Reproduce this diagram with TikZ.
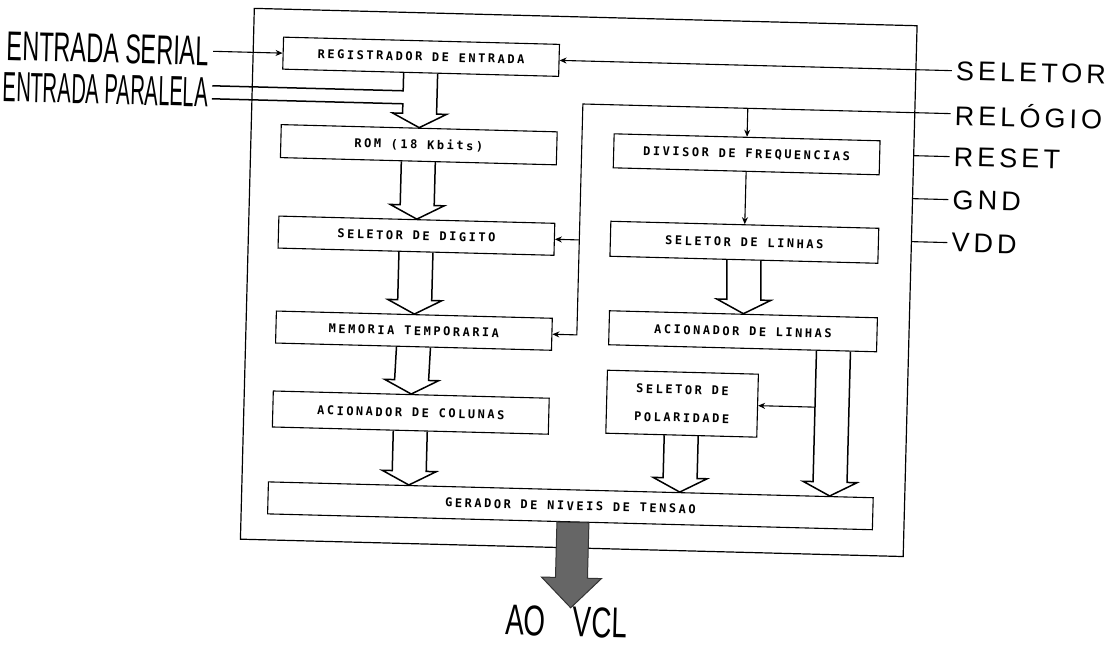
\documentclass[tikz,border=0pt]{standalone}
\usepackage{fontspec}
\usepackage{graphicx}
\usetikzlibrary{arrows.meta, positioning, calc}

\newfontfamily\dotfont[LetterSpace=21]{DejaVu Sans Mono}
\newfontfamily\pinfont[LetterSpace=15]{Liberation Sans}
\newfontfamily\plotfont{Liberation Sans}

% tall narrow plotter lettering
\newcommand{\plotlabel}[2]{\resizebox{#1}{29pt}{\plotfont #2}}

% hollow bus arrow from #1 down to its tip #2
\newcommand{\busarrow}[2]{%
  \draw[bus] ($(#1)+(-17,0)$) -- ($(#2)+(-17,-14)$) -- ($(#2)+(-27,-14)$) -- (#2)
    -- ($(#2)+(27,-14)$) -- ($(#2)+(17,-14)$) -- ($(#1)+(17,0)$);}

\begin{document}
\begin{tikzpicture}[
    x=1pt, y=-1pt,
    blk/.style={rectangle, draw=black, line width=1.1pt, minimum width=276pt, minimum height=32pt, inner sep=0pt, font=\dotfont\bfseries\fontsize{12}{14}\selectfont},
    pinlabel/.style={anchor=west, inner sep=4pt, font=\pinfont\fontsize{27}{30}\selectfont},
    sidelabel/.style={anchor=east, inner sep=4pt},
    arrow/.style={-{Stealth[length=7pt, width=6pt]}, line width=1.1pt},
    bus/.style={line width=1.5pt, line join=miter},
    wire/.style={line width=1.1pt}
]
\useasboundingbox (0,0) rectangle (1108,652);

\begin{scope}[rotate around={-1.5:(580,330)}, transform shape]

\node[draw, line width=1.2pt, minimum width=663pt, minimum height=531pt, inner sep=0pt] (chip) at (577.5,282.5) {};

% left column
\node[blk] (reg) at (414,61) {REGISTRADOR DE ENTRADA};
\node[blk, minimum height=33pt] (rom) at (414,149) {ROM (18 Kbits)};
\node[blk] (dig) at (414,240) {SELETOR DE DIGITO};
\node[blk] (mem) at (414,335) {MEMORIA TEMPORARIA};
\node[blk, minimum height=36pt] (acol) at (413,417) {ACIONADOR DE COLUNAS};
\node[blk, minimum width=605pt] (ger) at (575,506) {GERADOR DE NIVEIS DE TENSAO};

% right column
\node[blk, minimum width=266pt, minimum height=34pt] (div) at (742,150) {DIVISOR DE FREQUENCIAS};
\node[blk, minimum width=268pt, minimum height=35pt] (slin) at (742,238) {SELETOR DE LINHAS};
\node[blk, minimum width=268pt, minimum height=34pt] (alin) at (743,327) {ACIONADOR DE LINHAS};
\node[blk, minimum width=151pt, minimum height=63pt, align=center] (pol) at (684,401) {SELETOR DE\\[14pt]POLARIDADE};

% pins
\node[sidelabel] (ser) at (206,61) {\plotlabel{202pt}{ENTRADA SERIAL}};
\node[sidelabel] (par) at (206,102) {\plotlabel{205pt}{ENTRADA PARALELA}};
\node[pinlabel] (sel) at (945,61) {SELETOR};
\node[pinlabel] (rel) at (945,104) {RELÓGIO};
\node[pinlabel] (rst) at (945,147) {RESET};
\node[pinlabel] (gnd) at (945,190) {GND};
\node[pinlabel] (vdd) at (945,233) {VDD};
\node[inner sep=0pt] (vcl) at (574,622) {\resizebox{122pt}{30pt}{\plotfont AO\quad VCL}};

\coordinate (clk) at (577,104);
\coordinate (linbus) at (834,0);
\coordinate (linbusl) at (817,0);
\coordinate (outtip) at (578,608);

% inputs
\draw[arrow] (ser.east) -- (reg.west);
\draw[arrow] (sel.west) -- (reg.east);
\draw[bus] ($(reg.south)+(-17,0)$) |- ([yshift=6.5pt]par.east);
\draw[bus] ([yshift=-6.5pt]par.east) -| ($(rom.north)+(-17,-14)$) -- ($(rom.north)+(-27,-14)$) -- (rom.north)
    -- ($(rom.north)+(27,-14)$) -- ($(rom.north)+(17,-14)$) -- ($(reg.south)+(17,0)$);

% clock
\draw[arrow] (rel.west) -- (clk) |- (mem.east);
\draw[arrow] (clk |- dig.east) -- (dig.east);
\draw[arrow] (div.north |- clk) -- (div.north);
\draw[arrow] (div.south) -- (slin.north);

\draw[wire] (chip.east |- rst.west) -- (rst.west);
\draw[wire] (chip.east |- gnd.west) -- (gnd.west);
\draw[wire] (chip.east |- vdd.west) -- (vdd.west);

% data buses
\busarrow{rom.south}{dig.north}
\busarrow{dig.south}{mem.north}
\busarrow{mem.south}{acol.north}
\busarrow{acol.south}{ger.north -| acol.south}
\busarrow{slin.south}{alin.north}
\busarrow{pol.south}{ger.north -| pol.south}
\busarrow{alin.south -| linbus}{ger.north -| linbus}
\draw[arrow] (linbusl |- pol.east) -- (pol.east);

% output to the display
\filldraw[fill=black!60, draw=black!80, line width=1pt] ($(ger.south -| outtip)+(-16,0)$) -- ($(outtip)+(-16,-30)$)
    -- ($(outtip)+(-30,-30)$) -- (outtip) -- ($(outtip)+(30,-30)$) -- ($(outtip)+(16,-30)$)
    -- ($(ger.south -| outtip)+(16,0)$) -- cycle;

\end{scope}
\end{tikzpicture}
\end{document}
